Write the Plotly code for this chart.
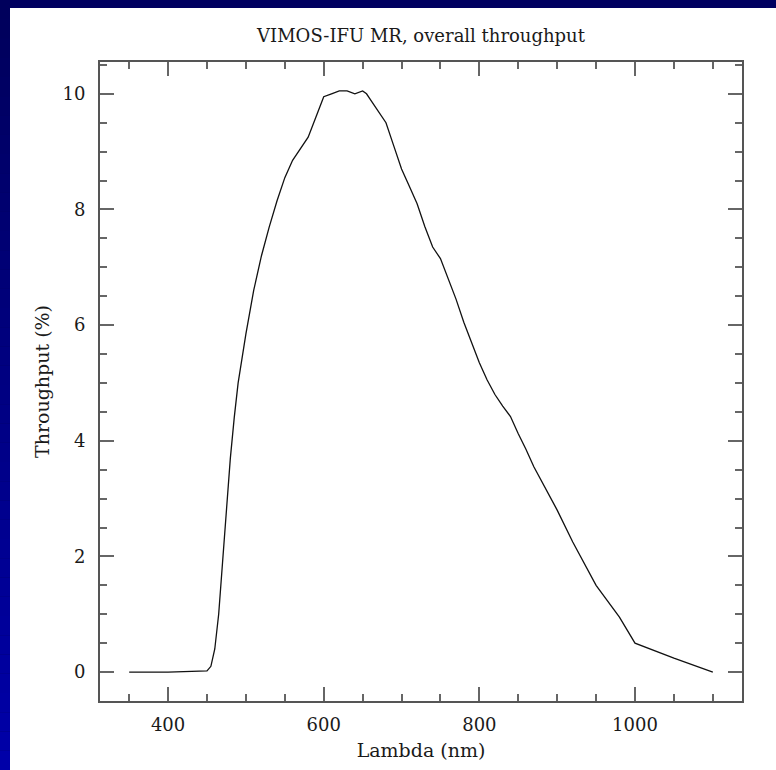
import plotly.graph_objects as go

wavelength_nm = [350, 400, 450, 455, 460, 465, 470, 475, 480, 485, 490, 500, 510, 520,
                 530, 540, 550, 560, 570, 580, 590, 600, 610, 620, 630, 640, 650, 655,
                 660, 670, 680, 690, 700, 710, 720, 730, 740, 750, 760, 770, 780, 790,
                 800, 810, 820, 830, 840, 850, 860, 870, 880, 900, 920, 950, 980, 1000,
                 1050, 1100]
throughput_pct = [0.0, 0.0, 0.02, 0.1, 0.4, 1.0, 1.9, 2.8, 3.7, 4.4, 5.0, 5.85, 6.6, 7.2,
                  7.7, 8.15, 8.55, 8.85, 9.05, 9.25, 9.6, 9.95, 10.0, 10.05, 10.05, 10.0,
                  10.05, 10.0, 9.9, 9.7, 9.5, 9.1, 8.7, 8.4, 8.1, 7.7, 7.35, 7.15, 6.8,
                  6.45, 6.05, 5.7, 5.35, 5.05, 4.8, 4.6, 4.42, 4.12, 3.85, 3.55, 3.3,
                  2.8, 2.25, 1.5, 0.95, 0.5, 0.24, 0.0]

title_text = "VIMOS-IFU MR, overall throughput"
x_title = "Lambda (nm)"
y_title = "Throughput (%)"

W, H = 776, 770
L, R, T, B = 100, 34, 62, 69
PW, PH = W - L - R, H - T - B
font_family = "DejaVu Serif, Liberation Serif, serif"
text_color = "#1a1a1a"


def px_x(px):
    return (px - L) / PW


def px_y(py):
    return 1 - (py - T) / PH


fig = go.Figure()
fig.add_trace(go.Scatter(x=wavelength_nm, y=throughput_pct, mode="lines",
                         line=dict(color="#111111", width=1.3), showlegend=False,
                         hoverinfo="skip"))

shapes = [dict(type="rect", xref="paper", yref="paper", layer="below",
               x0=px_x(10), x1=px_x(W + 5), y0=px_y(H + 5), y1=px_y(8),
               fillcolor="white", line_width=0)]
n = 40
for i in range(n):
    t = i / (n - 1)
    b = int(92 + (168 - 92) * t)
    shapes.append(dict(type="rect", xref="paper", yref="paper", layer="below",
                       x0=px_x(0), x1=px_x(10),
                       y0=px_y((i + 1) * H / n), y1=px_y(i * H / n),
                       fillcolor=f"rgb(0,0,{b})", line_width=0))

axis_common = dict(
    showline=True, linecolor="#555555", linewidth=2, mirror="allticks",
    ticks="inside", ticklen=14, tickwidth=1.5, tickcolor="#666666",
    showgrid=False, zeroline=False,
    tickfont=dict(family=font_family, size=18, color=text_color),
)

fig.update_layout(
    width=W, height=H,
    paper_bgcolor="#000060", plot_bgcolor="white",
    margin=dict(l=L, r=R, t=T, b=B),
    shapes=shapes,
    title=dict(text=title_text, x=(L + PW / 2) / W, xanchor="center",
               y=1 - 36 / H, yanchor="middle",
               font=dict(family=font_family, size=18, color=text_color)),
    xaxis=dict(range=[312.5, 1137.5], tickvals=[400, 600, 800, 1000],
               minor=dict(dtick=50, ticks="inside", ticklen=7, tickcolor="#666666",
                          tickwidth=1.5, showgrid=False, tick0=0),
               ticklabelstandoff=6,
               title=dict(text=x_title, standoff=10,
                          font=dict(family=font_family, size=19, color=text_color)),
               **axis_common),
    yaxis=dict(range=[-0.5, 10.55], tickvals=[0, 2, 4, 6, 8, 10],
               minor=dict(dtick=0.5, ticks="inside", ticklen=7, tickcolor="#666666",
                          tickwidth=1.5, showgrid=False, tick0=0),
               ticklabelstandoff=9,
               title=dict(text=y_title, standoff=8,
                          font=dict(family=font_family, size=19, color=text_color)),
               **axis_common),
)

fig.write_html("out.html")
